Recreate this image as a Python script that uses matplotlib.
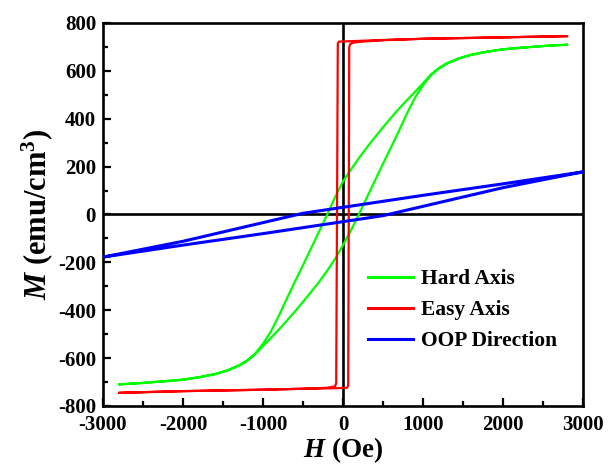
import matplotlib
matplotlib.use("Agg")
import matplotlib.pyplot as plt
from matplotlib.ticker import MultipleLocator

plt.rcParams['font.family'] = ['Liberation Serif', 'DejaVu Serif']
plt.rcParams['font.weight'] = 'bold'
plt.rcParams['axes.unicode_minus'] = False
plt.rcParams['mathtext.fontset'] = 'custom'
plt.rcParams['mathtext.rm'] = 'Liberation Serif:bold'
plt.rcParams['mathtext.it'] = 'Liberation Serif:italic:bold'
plt.rcParams['mathtext.bf'] = 'Liberation Serif:bold'

# ---- Hard axis (green) ----
hard_desc_H = [2800, 2600, 2400, 2200, 2000, 1800, 1600, 1450, 1300, 1200, 1100, 1000,
               900, 800, 700, 600, 500, 400, 300, 200, 100, 0, -100, -197,
               -300, -400, -500, -600, -700, -800, -900, -1000, -1100, -1200, -1300,
               -1450, -1600, -1800, -2000, -2200, -2400, -2600, -2800]
hard_desc_M = [709, 706, 701, 696, 690, 680, 667, 652, 632, 612, 585, 548,
               512, 478, 442, 404, 364, 323, 281, 236, 188, 138, 72, 0,
               -72, -142, -212, -280, -350, -422, -488, -540, -582, -610, -630,
               -652, -667, -680, -690, -696, -701, -706, -710]
hard_asc_H = [-2800, -2600, -2400, -2200, -2000, -1800, -1600, -1450, -1300, -1200, -1100,
              -1000, -900, -800, -700, -600, -500, -400, -300, -200, -100, 0, 100, 198,
              300, 400, 500, 600, 700, 800, 900, 1000, 1100, 1200, 1300, 1450, 1600,
              1800, 2000, 2200, 2400, 2600, 2800]
hard_asc_M = [-710, -706, -701, -696, -690, -680, -667, -652, -632, -612, -585,
              -550, -515, -480, -443, -405, -365, -324, -282, -236, -186, -128, -66, 0,
              72, 142, 212, 280, 350, 422, 488, 540, 582, 610, 630, 652, 667,
              680, 690, 696, 701, 706, 709]

# ---- Easy axis (red) ----
easy_desc_H = [2800, 2000, 1000, 500, 100, -50, -65, -75, -85, -100, -200, -500, -1000, -2000, -2800]
easy_desc_M = [745, 740, 734, 729, 724, 722, 715, 0, -705, -718, -724, -728, -732, -738, -745]
easy_asc_H = [-2800, -2000, -1000, -500, -100, 50, 65, 72, 78, 90, 130, 200, 500, 1000, 2000, 2800]
easy_asc_M = [-745, -738, -732, -728, -726, -724, -715, 0, 700, 712, 718, 721, 728, 734, 740, 745]

# ---- OOP direction (blue) ----
oop_desc_H = [3000, 2500, 2000, 1500, 1000, 500, 0, -500, -1000, -1500, -2000, -2500, -3000]
oop_desc_M = [178, 153, 128, 104, 80, 55, 30, 5, -34, -73, -112, -145, -178]
oop_asc_H = [-3000, -2500, -2000, -1500, -1000, -500, 0, 500, 1000, 1500, 2000, 2500, 3000]
oop_asc_M = [-178, -153, -128, -104, -80, -55, -30, -5, 34, 73, 112, 145, 178]

x_ticks = [-3000, -2000, -1000, 0, 1000, 2000, 3000]
y_ticks = [-800, -600, -400, -200, 0, 200, 400, 600, 800]

fig = plt.figure(figsize=(6.08, 4.66), dpi=100)
ax = fig.add_axes([0.1694, 0.1288, 0.7895, 0.8219])

ax.axhline(0, color='black', lw=1.9, zorder=1.5)
ax.axvline(0, color='black', lw=1.9, zorder=1.5)

green = '#00FF00'
red = '#FF0000'
blue = '#0000FF'

ax.plot(hard_desc_H + hard_asc_H, hard_desc_M + hard_asc_M, color=green, lw=1.6,
        label='Hard Axis', zorder=3)
ax.plot(easy_desc_H + easy_asc_H, easy_desc_M + easy_asc_M, color=red, lw=1.6,
        label='Easy Axis', zorder=3)
ax.plot(oop_desc_H + oop_asc_H, oop_desc_M + oop_asc_M, color=blue, lw=2.2,
        label='OOP Direction', zorder=4)

ax.set_xlim(-3000, 3000)
ax.set_ylim(-800, 800)
ax.set_xticks(x_ticks)
ax.set_yticks(y_ticks)
ax.xaxis.set_minor_locator(MultipleLocator(500))
ax.yaxis.set_minor_locator(MultipleLocator(100))
ax.tick_params(which='both', direction='in', top=False, right=False, width=1.6)
ax.tick_params(which='major', length=6, labelsize=15)
ax.tick_params(axis='y', which='major', pad=5)
ax.tick_params(axis='x', which='major', pad=6.5)
ax.tick_params(which='minor', length=3.5)
for lab in ax.get_xticklabels() + ax.get_yticklabels():
    lab.set_fontweight('bold')
for s in ax.spines.values():
    s.set_linewidth(1.9)

ax.set_xlabel(r'$H$ (Oe)', fontsize=19.5, fontweight='bold', labelpad=0)
ax.set_ylabel(r'$M$ (emu/cm$^\mathbf{3}$)', fontsize=22, fontweight='bold', labelpad=2)

leg = ax.legend(loc='center left', bbox_to_anchor=(0.552, 0.25), frameon=False,
                fontsize=15.5, handlelength=2.1, handletextpad=0.35,
                labelspacing=0.5, borderpad=0, borderaxespad=0)
for t in leg.get_texts():
    t.set_fontweight('bold')
for l in leg.get_lines():
    l.set_linewidth(2.2)

fig.savefig('out.png', dpi=100)
